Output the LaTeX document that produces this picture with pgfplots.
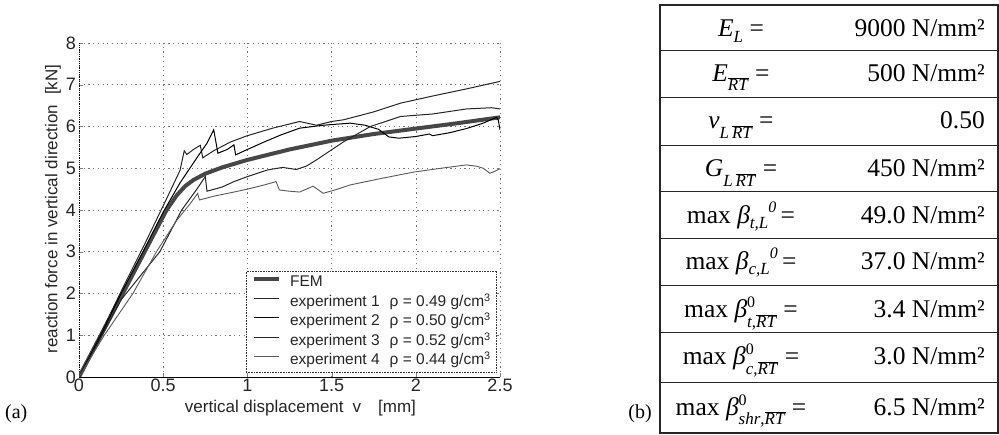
\documentclass[border=0pt]{standalone}
\usepackage{fontspec}
\setmainfont{Liberation Serif}
\setsansfont{Liberation Sans}
\usepackage{pgfplots}
\pgfplotsset{compat=1.18}
\newcommand\tsub[2]{\raisebox{-#1pt}{\fontsize{17}{20}\selectfont #2}}
\newcommand\tsup[2]{\raisebox{#1pt}{\fontsize{16}{19}\selectfont #2}}
\newcommand\ovl[1]{$\overline{\hbox{#1}}$}
\begin{document}
\begin{tikzpicture}[x=1pt,y=1pt]
\useasboundingbox (0,0) rectangle (999,434);
\begin{axis}[at={(79pt,57pt)}, anchor=south west, scale only axis,
  width=421pt, height=334pt,
  xmin=0, xmax=2.5, ymin=0, ymax=8,
  xtick={0,0.5,1,1.5,2,2.5}, ytick={0,1,2,3,4,5,6,7,8},
  axis x line*=bottom, axis y line*=left,
  x axis line style={-, line width=0.8pt},
  y axis line style={-, densely dotted, line width=0.8pt},
  tick align=inside, major tick length=4pt,
  /pgf/number format/assume math mode=true,
  tick label style={font=\sffamily\fontsize{18}{21}\selectfont, text=black!85},
  xticklabel style={inner sep=2pt},
  yticklabel style={inner sep=3pt},
  label style={font=\sffamily\fontsize{17}{20}\selectfont, text=black!85},
  xlabel={vertical displacement\hspace{9pt}v\hspace{17pt}[mm]},
  ylabel={reaction force in vertical direction\hspace{10pt}[kN]},
  xlabel style={at={(axis description cs:0.526,-0.093)}, anchor=center},
  ylabel style={at={(axis description cs:-0.062,0.503)}, anchor=center, rotate=0},
  grid=major,
  major grid style={black!55, line width=0.6pt, dash pattern=on 1.2pt off 3.5pt},
  legend cell align=left,
  legend style={at={(rel axis cs:0.993,0.012)}, anchor=south east,
    draw=black!80, densely dotted, line width=0.6pt, fill=white,
    font=\sffamily\fontsize{15.5}{18}\selectfont, text=black!85,
    inner xsep=6pt, inner ysep=2pt, row sep=0pt,
    nodes={inner xsep=0pt, inner ysep=1.75pt, text height=12pt, text depth=4pt},
    /tikz/every odd column/.append style={column sep=9pt}},
  legend image code/.code={\draw[#1,solid] (0pt,4pt) -- (25pt,4pt);},
]
\addplot[black!72, line width=4pt] coordinates {
(0,0)(0.13,1)(0.26,2)(0.39,3)(0.52,4)(0.58,4.35)(0.63,4.57)(0.68,4.72)(0.75,4.87)(0.85,5.02)(1.0,5.2)(1.25,5.45)(1.5,5.66)(1.75,5.82)(2.0,5.95)(2.25,6.08)(2.5,6.22)};
\addlegendentry{FEM}
\addplot[black!85, line width=1pt] coordinates {
(0,0)(0.13,1.05)(0.25,2.05)(0.38,3.1)(0.5,4.1)(0.6,4.95)(0.625,5.42)(0.64,5.33)(0.68,5.45)(0.72,5.55)(0.735,5.25)(0.8,5.42)(0.9,5.63)(1.0,5.78)(1.15,5.96)(1.31,6.12)(1.41,6.03)(1.5,6.12)(1.57,6.16)(1.75,6.35)(1.91,6.56)(2.1,6.73)(2.3,6.9)(2.5,7.08)};
\addlegendentry{experiment 1\hspace{10pt}ρ = 0.49 g/cm\textsuperscript{3}}
\addplot[black, line width=1pt] coordinates {
(0,0)(0.13,1.0)(0.25,2.0)(0.38,3.0)(0.5,3.95)(0.6,4.65)(0.7,5.25)(0.76,5.6)(0.80,5.92)(0.825,5.36)(0.88,5.45)(0.92,5.56)(0.93,5.32)(1.0,5.45)(1.1,5.63)(1.2,5.8)(1.31,5.96)(1.45,6.03)(1.61,6.08)(1.7,6.03)(1.78,5.93)(1.84,5.75)(1.9,5.72)(2.0,5.76)(2.08,5.82)(2.1,5.78)(2.2,5.85)(2.3,5.95)(2.4,6.08)(2.48,6.22)(2.49,6.15)(2.5,5.92)};
\addlegendentry{experiment 2\hspace{10pt}ρ = 0.50 g/cm\textsuperscript{3}}
\addplot[black!85, line width=1pt] coordinates {
(0,0)(0.13,0.95)(0.25,1.85)(0.48,3.0)(0.61,4.0)(0.7,4.5)(0.75,4.8)(0.76,4.45)(0.85,4.55)(0.92,4.68)(1.0,4.8)(1.12,4.96)(1.21,5.02)(1.29,4.97)(1.35,5.05)(1.41,5.2)(1.57,5.63)(1.73,6.0)(1.91,6.24)(2.1,6.3)(2.3,6.42)(2.45,6.45)(2.5,6.42)};
\addlegendentry{experiment 3\hspace{10pt}ρ = 0.52 g/cm\textsuperscript{3}}
\addplot[black!65, line width=0.9pt] coordinates {
(0,0)(0.15,1.0)(0.32,2.0)(0.46,3.0)(0.58,3.75)(0.66,4.15)(0.705,4.4)(0.715,4.24)(0.8,4.33)(0.92,4.43)(1.0,4.5)(1.1,4.6)(1.17,4.68)(1.19,4.48)(1.25,4.45)(1.31,4.43)(1.39,4.57)(1.45,4.4)(1.52,4.48)(1.61,4.6)(1.8,4.76)(1.99,4.91)(2.15,5.0)(2.3,5.08)(2.36,5.05)(2.4,5.0)(2.44,4.88)(2.47,4.93)(2.5,4.99)};
\addlegendentry{experiment 4\hspace{10pt}ρ = 0.44 g/cm\textsuperscript{3}}
\end{axis}
% panel labels
\node[font=\rmfamily\fontsize{20}{23}\selectfont, anchor=base west, inner sep=0] at (5,16) {(a)};
\node[font=\rmfamily\fontsize{20}{23}\selectfont, anchor=base east, inner sep=0] at (652,16) {(b)};
% table
\draw[line width=1.1pt, black!85] (660,1) rectangle (998,429);
\foreach \yy in {383,336,288,242,195,148,101,51} {\draw[line width=1pt, black!85] (660,\yy) -- (998,\yy);}
\begin{scope}[every node/.style={font=\rmfamily\fontsize{25.5}{30}\selectfont, inner sep=0}]
\node[anchor=base] at (741,397) {\textit{E}\tsub{6}{\textit{L}} =};
\node[anchor=base east] at (985,397) {9000 N/mm²};
\node[anchor=base] at (741,352) {\textit{E}\tsub{9}{\ovl{\textit{RT}}} =};
\node[anchor=base east] at (985,352) {500 N/mm²};
\node[anchor=base] at (741,305) {\textit{ν}\tsub{10}{\textit{L}\,\ovl{\textit{RT}}} =};
\node[anchor=base east] at (985,305) {0.50};
\node[anchor=base] at (741,257) {\textit{G}\tsub{10}{\textit{L}\,\ovl{\textit{RT}}} =};
\node[anchor=base east] at (985,257) {450 N/mm²};
\node[anchor=base] at (741,210) {max \textit{β}\tsub{5}{\textit{t,L}}\tsup{11}{\textit{0}}\,=};
\node[anchor=base east] at (985,210) {49.0 N/mm²};
\node[anchor=base] at (741,164) {max \textit{β}\tsub{5}{\textit{c,L}}\tsup{11}{\textit{0}}\,=};
\node[anchor=base east] at (985,164) {37.0 N/mm²};
\node[anchor=base] at (741,116) {max \textit{β}\rlap{\tsup{10}{0}}\tsub{10}{\textit{t},\ovl{\textit{RT}}} =};
\node[anchor=base east] at (985,116) {3.4 N/mm²};
\node[anchor=base] at (741,69) {max \textit{β}\rlap{\tsup{10}{0}}\tsub{10}{\textit{c},\ovl{\textit{RT}}} =};
\node[anchor=base east] at (985,69) {3.0 N/mm²};
\node[anchor=base] at (741,19) {max \textit{β}\rlap{\tsup{10}{0}}\tsub{10}{\textit{shr},\ovl{\textit{RT}}} =};
\node[anchor=base east] at (985,19) {6.5 N/mm²};
\end{scope}
\end{tikzpicture}
\end{document}
